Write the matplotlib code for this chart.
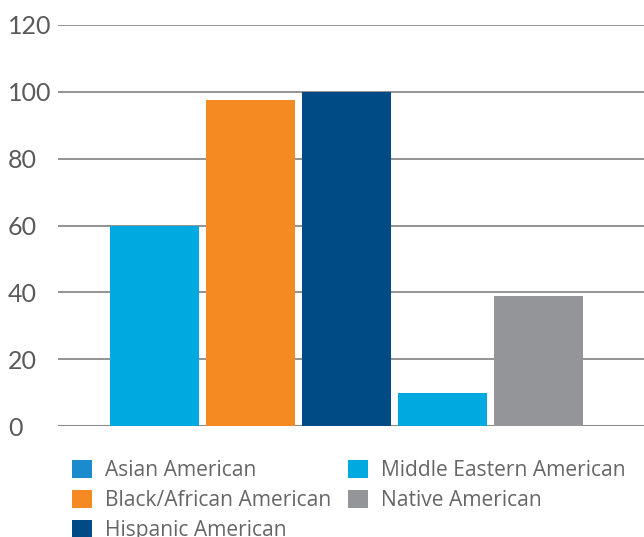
import matplotlib.pyplot as plt
from matplotlib.patches import Patch

plt.rcParams['font.family'] = ['Lato', 'DejaVu Sans']

groups = ["Asian American", "Black/African American", "Hispanic American",
          "Middle Eastern American", "Native American"]
values = [60, 97.5, 100, 10, 38.8]
bar_colors = ["#00aae0", "#f58a22", "#004a86", "#00aae0", "#939598"]
legend_colors = ["#1a8bcd", "#f58a22", "#004a86", "#00aae0", "#939598"]
yticks = [0, 20, 40, 60, 80, 100, 120]

fig = plt.figure(figsize=(6.44, 5.37), dpi=100)
ax = fig.add_axes([58 / 644, 111 / 537, 1 - 58 / 644, 401 / 537])

x = list(range(len(groups)))
ax.bar(x, values, width=0.927, color=bar_colors, zorder=3)

ax.set_xlim(-1.005, 5.1)
ax.set_ylim(0, 120)
ax.set_yticks(yticks)
ax.set_xticks([])
ax.grid(axis='y', color='#8a8a8a', linewidth=1.3, zorder=0)
ax.set_axisbelow(True)
for s in ax.spines.values():
    s.set_visible(False)
ax.axhline(0, color='#8a8a8a', linewidth=1.5, zorder=2)

ax.tick_params(axis='y', length=0, pad=36, labelsize=18, labelcolor='#5a5a5a')
for lbl in ax.get_yticklabels():
    lbl.set_horizontalalignment('left')

handles = [Patch(facecolor=c, edgecolor='none') for c in legend_colors]
fig.legend(handles, groups, loc='upper left', bbox_to_anchor=(72 / 644, 1 - 460 / 537),
           ncol=2, frameon=False, prop={'family': 'Open Sans', 'size': 15.1},
           labelcolor='#666666',
           handlelength=0.95, handleheight=0.95, handletextpad=0.62,
           columnspacing=0.8, labelspacing=0.42, borderpad=0, borderaxespad=0)

fig.savefig("out.png", dpi=100)
